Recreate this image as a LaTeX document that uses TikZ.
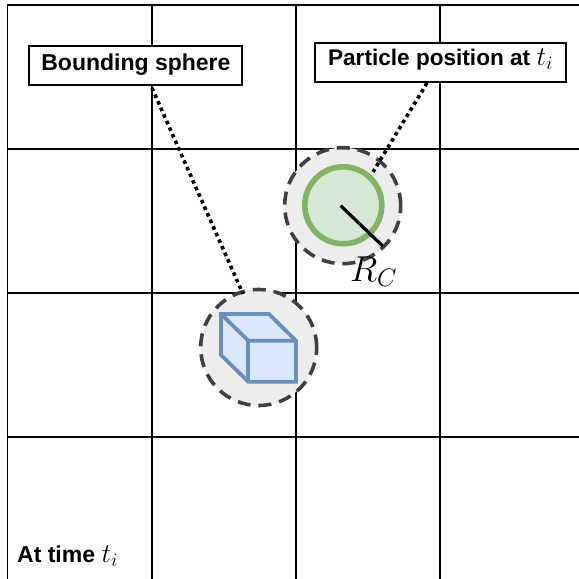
\RequirePackage{fix-cm}
\documentclass[tikz,border=0pt]{standalone}
\usepackage{fontspec}
\setmainfont{Liberation Sans}
\newcommand{\bigti}{{\fontsize{27}{30}\selectfont$t_i$}}
\tikzset{
  gridline/.style={line width=1.8pt,black},
  labelbox/.style={draw=black,line width=1.8pt,fill=white,inner sep=0pt,font=\bfseries\fontsize{23}{26}\selectfont,anchor=center},
  sphere/.style={circle,draw=black!75,fill=black!7,line width=3.6pt,dash pattern=on 13pt off 8pt,minimum size=116pt,inner sep=0pt},
  leader/.style={line width=3.6pt,dash pattern=on 3.6pt off 3.6pt,black},
  cubeedge/.style={draw=cubeblue,line width=3.8pt,fill=cubefill,line join=miter},
}
\definecolor{cubeblue}{HTML}{6C8EBF}
\definecolor{cubefill}{HTML}{DAE8FC}
\definecolor{partgreen}{HTML}{82B366}
\definecolor{partfill}{HTML}{D5E8D4}
\begin{document}
\begin{tikzpicture}[x=1pt,y=-1pt]
\useasboundingbox (0,0) rectangle (579,579);
\fill[white] (0,0) rectangle (579,579);
% grid
\foreach \gx in {7.5,152,296,440} \draw[gridline] (\gx,5) -- (\gx,579);
\foreach \gy in {5,149,293,437} \draw[gridline] (6.6,\gy) -- (579,\gy);
% spheres
\node[sphere] (spa) at (342.7,205.7) {};
\node[sphere] (spb) at (258.7,347.5) {};
% particle
\node[circle,draw=partgreen,fill=partfill,line width=5.6pt,minimum size=77pt,inner sep=0pt] (part) at (343.3,205.3) {};
\coordinate (rc) at (382.7,246);
\coordinate (rs) at (340.7,205.7);
\draw[line width=3.2pt,black] (rs) -- (rc);
\node[font=\fontsize{36}{40}\selectfont,anchor=base west,inner sep=0pt] (rclabel) at (350,281) {$R_C$};
% cube
\draw[cubeedge] (221,314) -- (269,314) -- (296,340.7) -- (296,381.7) -- (248.3,381.7) -- (221,355) -- cycle;
\draw[cubeedge,fill=none] (221,314) -- (248.3,340.7) -- (296,340.7);
\draw[cubeedge,fill=none] (248.3,340.7) -- (248.3,381.7);
% labels
\node[labelbox,minimum width=212.7pt,minimum height=39.3pt] (laba) at (135.35,65.65) {};
\node[labelbox,minimum width=251.3pt,minimum height=39pt] (labb) at (440.35,62.2) {};
\node[font=\bfseries\fontsize{23}{26}\selectfont,anchor=base,inner sep=0pt] (labatext) at (135.9,70.7) {Bounding sphere};
\node[font=\bfseries\fontsize{22.6}{26}\selectfont,anchor=base,inner sep=0pt] (labbtext) at (440.5,65) {Particle position at \bigti};
\node[font=\bfseries\fontsize{23}{26}\selectfont,anchor=base west,inner sep=0pt] (time) at (17,562) {At time \bigti};
% leaders
\coordinate (ca) at (152,88);
\coordinate (cb) at (427,83);
\coordinate (ea) at (243,294);
\coordinate (eb) at (373,172);
\draw[leader] (ca) -- (ea);
\draw[leader] (cb) -- (eb);
\end{tikzpicture}
\end{document}
